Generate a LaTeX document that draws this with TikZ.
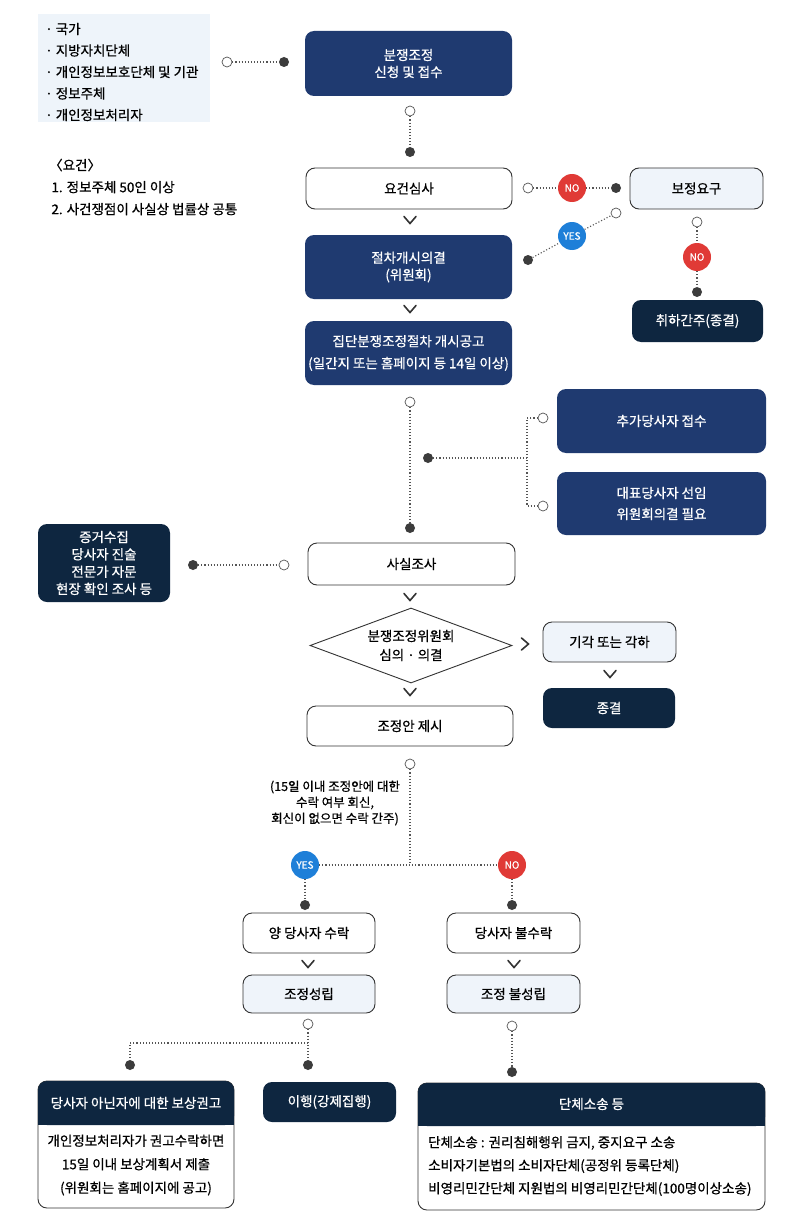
\documentclass[tikz,border=0pt]{standalone}
\usepackage{fontspec}
\setmainfont{Noto Sans CJK KR}[FakeBold=0.7]
\usetikzlibrary{shapes.geometric}
\definecolor{navy}{HTML}{1F3A70}
\definecolor{deep}{HTML}{0E2640}
\definecolor{lightf}{HTML}{EFF4FA}
\definecolor{listf}{HTML}{EEF4FA}
\definecolor{bordc}{HTML}{333333}
\definecolor{dotc}{HTML}{555555}
\definecolor{nored}{HTML}{E03A36}
\definecolor{yesblue}{HTML}{1E7FD8}
\newcommand\chevdn[2]{\draw[chev] (#1,#2) ++(-6,-3.5) -- ++(6,7) -- ++(6,-7);}
\newcommand\chevrt[2]{\draw[chev] (#1,#2) ++(-3.5,-6) -- ++(7,6) -- ++(-7,6);}
\tikzset{
  boxbase/.style={rectangle, rounded corners=9pt, inner sep=2pt, align=center, font=\fontsize{13.5}{17}\selectfont},
  bluebox/.style={boxbase, fill=navy, text=white},
  deepbox/.style={boxbase, fill=deep, text=white},
  whitebox/.style={boxbase, fill=white, draw=bordc, line width=0.9pt},
  lightbox/.style={boxbase, fill=lightf, draw=bordc, line width=0.9pt},
  opendot/.style={circle, draw=dotc, fill=white, line width=0.7pt, minimum size=10pt, inner sep=0pt},
  fulldot/.style={circle, fill=dotc!70!black, minimum size=10pt, inner sep=0pt},
  nobadge/.style={circle, fill=nored, text=white, minimum size=28pt, inner sep=0pt, font=\fontsize{10}{10}\selectfont},
  yesbadge/.style={circle, fill=yesblue, text=white, minimum size=28pt, inner sep=0pt, font=\fontsize{10}{10}\selectfont},
  dotline/.style={draw=dotc, dotted, line width=1.1pt},
  chev/.style={draw=bordc, line width=1.6pt, line cap=round, line join=miter},
  plain/.style={font=\fontsize{13.5}{22}\selectfont, align=left, inner sep=0pt}
}
\begin{document}
\begin{tikzpicture}[x=1pt,y=-1pt]
\useasboundingbox (0,0) rectangle (811,1217);
\fill[white] (0,0) rectangle (811,1217);

% top-left list
\node[rectangle, fill=listf, minimum width=172pt, minimum height=108pt] (list) at (124,68) {};
\node[anchor=west, align=left, inner sep=0pt, font=\fontsize{13.5}{21.5}\selectfont] (listt) at (45,72) {· 국가\\· 지방자치단체\\· 개인정보보호단체 및 기관\\· 정보주체\\· 개인정보처리자};
\node[plain, anchor=west] (req) at (49,187) {〈요건〉\\\,1. 정보주체 50인 이상\\\,2. 사건쟁점이 사실상 법률상 공통};

% column
\node[bluebox, minimum width=207pt, minimum height=65pt] (apply) at (408.5,63.5) {분쟁조정\\신청 및 접수};
\node[opendot] (o1) at (227,62) {};
\node[fulldot] (f1) at (284,62) {};
\draw[dotline] (o1) -- (f1);
\node[opendot] (o2) at (410,111) {};
\node[fulldot] (f2) at (410,152) {};
\draw[dotline] (o2) -- (f2);

\node[whitebox, minimum width=206pt, minimum height=41pt] (review) at (409,188.5) {요건심사};
\chevdn{410}{220}
\node[lightbox, minimum width=133pt, minimum height=41pt] (fix) at (696.5,188.5) {보정요구};
\node[opendot] (o3) at (528,188) {};
\node[nobadge] (no1) at (572,188) {NO};
\node[fulldot] (f3) at (616,188) {};
\draw[dotline] (o3) -- (no1) -- (f3);
\node[fulldot] (f4) at (528,260) {};
\node[yesbadge] (yes1) at (572,236) {YES};
\node[opendot] (o4) at (616,213) {};
\draw[dotline] (f4) -- (yes1) -- (o4);
\node[opendot] (o5) at (697,222) {};
\node[nobadge] (no2) at (697,257) {NO};
\node[fulldot] (f5) at (697,292) {};
\draw[dotline] (o5) -- (no2) -- (f5);
\node[deepbox, minimum width=131pt, minimum height=42pt] (withdraw) at (697.5,321) {취하간주(종결)};

\node[bluebox, minimum width=207pt, minimum height=64pt] (decide) at (408.5,267) {절차개시의결\\(위원회)};
\chevdn{410}{309}
\node[bluebox, minimum width=207pt, minimum height=64pt, font=\fontsize{13.5}{22}\selectfont] (notice) at (408.5,353) {집단분쟁조정절차 개시공고\\(일간지 또는 홈페이지 등 14일 이상)};

\node[opendot] (o6) at (410,402) {};
\node[fulldot] (f6) at (410,528) {};
\draw[dotline] (o6) -- (f6);
\node[fulldot] (f7) at (428,458) {};
\node[opendot] (o7) at (543,418) {};
\node[opendot] (o8) at (543,506) {};
\coordinate (jt) at (527,418);
\coordinate (jm) at (527,458);
\coordinate (jb) at (527,506);
\draw[dotline] (o7) -- (jt) -- (jb) -- (o8);
\draw[dotline] (f7) -- (jm);
\node[bluebox, minimum width=209pt, minimum height=64pt] (add) at (661.5,421) {추가당사자 접수};
\node[bluebox, minimum width=209pt, minimum height=63pt, font=\fontsize{13.5}{21}\selectfont] (rep) at (661.5,503.5) {대표당사자 선임\\위원회의결 필요};

\node[deepbox, minimum width=132pt, minimum height=78pt, font=\fontsize{13.5}{17.3}\selectfont] (evid) at (104,563) {증거수집\\당사자 진술\\전문가 자문\\현장 확인 조사 등};
\node[fulldot] (f8) at (193,565) {};
\node[opendot] (o9) at (284,565) {};
\draw[dotline] (f8) -- (o9);
\node[whitebox, minimum width=207pt, minimum height=42pt] (fact) at (411.5,564) {사실조사};
\chevdn{410}{597}

\node[diamond, draw=bordc, line width=0.9pt, fill=white, aspect=2.7, minimum width=202pt, minimum height=75pt, inner sep=0pt, align=center, font=\fontsize{13.5}{19}\selectfont] (delib) at (411,645.5) {분쟁조정위원회\\심의 · 의결};
\chevrt{525}{644}
\node[lightbox, minimum width=133pt, minimum height=40pt] (reject) at (609.5,642) {기각 또는 각하};
\chevdn{610}{674}
\node[deepbox, minimum width=132pt, minimum height=40pt] (endn) at (609,708) {종결};
\chevdn{410}{692}
\node[whitebox, minimum width=206pt, minimum height=40pt] (propose) at (410,726) {조정안 제시};

\node[opendot] (o10) at (410,764) {};
\coordinate (jn) at (410,865);
\node[yesbadge] (yes2) at (305,865) {YES};
\node[nobadge] (no3) at (512,865) {NO};
\draw[dotline] (o10) -- (jn);
\draw[dotline] (yes2) -- (no3);
\node[align=center, inner sep=0pt, font=\fontsize{12.5}{16}\selectfont] (note) at (335,803) {(15일 이내 조정안에 대한\\수락 여부 회신,\\회신이 없으면 수락 간주)};
\node[fulldot] (f9) at (305,905) {};
\node[fulldot] (f10) at (512,905) {};
\draw[dotline] (yes2) -- (f9);
\draw[dotline] (no3) -- (f10);

\node[whitebox, minimum width=132pt, minimum height=40pt] (accept) at (309,933) {양 당사자 수락};
\node[whitebox, minimum width=133pt, minimum height=40pt] (refuse) at (513.5,933) {당사자 불수락};
\chevdn{308}{964}
\chevdn{514}{964}
\node[lightbox, minimum width=132pt, minimum height=38pt] (okn) at (309,994) {조정성립};
\node[lightbox, minimum width=133pt, minimum height=38pt] (fail) at (513.5,994) {조정 불성립};

\node[opendot] (o11) at (308,1024) {};
\node[fulldot] (f11) at (308,1065) {};
\coordinate (jl) at (308,1043);
\coordinate (jl2) at (130,1043);
\node[fulldot] (f12) at (130,1065) {};
\draw[dotline] (o11) -- (f11);
\draw[dotline] (jl) -- (jl2) -- (f12);
\node[opendot] (o12) at (512,1026) {};
\node[fulldot] (f13) at (512,1072) {};
\draw[dotline] (o12) -- (f13);

% compensation box
\node[whitebox, minimum width=196pt, minimum height=127pt] (comp) at (136,1144.5) {};
\node[rectangle, rounded corners=9pt, fill=deep, minimum width=196pt, minimum height=44pt, inner sep=0pt] (comph) at (136,1103) {};
\fill[deep] (38,1110) rectangle (234,1125);
\node[text=white, font=\fontsize{13.5}{17}\selectfont] (compt) at (136,1103) {당사자 아닌자에 대한 보상권고};
\node[align=center, font=\fontsize{13.5}{23.5}\selectfont, inner sep=0pt] (compb) at (136,1165) {개인정보처리자가 권고수락하면\\15일 이내 보상계획서 제출\\(위원회는 홈페이지에 공고)};

\node[deepbox, minimum width=133pt, minimum height=40pt] (exec) at (329.5,1102) {이행(강제집행)};

% suit box
\node[whitebox, minimum width=347pt, minimum height=127pt] (suit) at (591.5,1146.5) {};
\node[rectangle, rounded corners=9pt, fill=deep, minimum width=347pt, minimum height=43pt, inner sep=0pt] (suith) at (591.5,1104.5) {};
\fill[deep] (418,1110) rectangle (765,1126);
\node[text=white, font=\fontsize{13.5}{17}\selectfont] (suitt) at (591.5,1104) {단체소송 등};
\node[anchor=west, align=left, font=\fontsize{13.5}{23}\selectfont, inner sep=0pt] (suitb) at (428,1166) {단체소송 : 권리침해행위 금지, 중지요구 소송\\소비자기본법의 소비자단체(공정위 등록단체)\\비영리민간단체 지원법의 비영리민간단체(100명이상소송)};
\end{tikzpicture}
\end{document}
